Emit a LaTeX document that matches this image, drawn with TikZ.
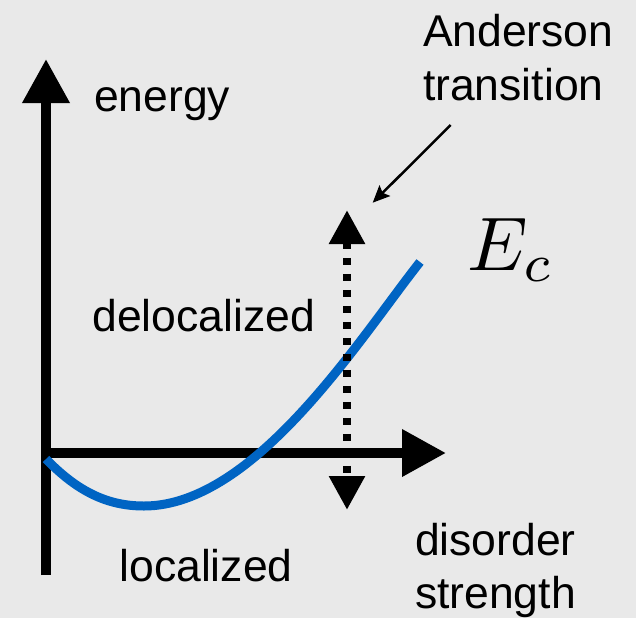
\documentclass[tikz,border=0pt]{standalone}
\usepackage{fontspec}
\setmainfont{Liberation Sans}
\usetikzlibrary{arrows.meta}
\definecolor{bgc}{RGB}{233,233,233}
\definecolor{curveblue}{RGB}{0,100,195}
\tikzset{
  lbl/.style={anchor=base west,inner sep=0pt,outer sep=0pt,font=\fontsize{44.5}{52}\selectfont},
  axis/.style={line width=10pt,-{Triangle[length=44pt,width=45pt]}},
  dotarrow/.style={line width=8.5pt,dash pattern=on 7pt off 9pt,{Triangle[length=34pt,width=34pt]}-{Triangle[length=34pt,width=34pt]}},
  pointer/.style={line width=2.5pt,-{Stealth[length=17pt,width=15pt,inset=3pt]}},
  ecurve/.style={line width=9pt,curveblue}
}
\begin{document}
\begin{tikzpicture}[x=1pt,y=-1pt]
\fill[bgc] (0,0) rectangle (636,618);
\useasboundingbox (0,0) rectangle (636,618);
% axes
\coordinate (o) at (46,453);
\coordinate (ybot) at (46,575);
\coordinate (ytop) at (46,59);
\coordinate (xend) at (446,453);
\draw[axis] (ybot) -- (ytop);
\draw[axis] (41,453) -- (xend);
% curve
\draw[ecurve] (46,459) .. controls (78,492) and (108,506) .. (144,506)
  .. controls (255,506) and (360,338) .. (420,262);
% dotted arrow
\coordinate (dtop) at (347,210);
\coordinate (dbot) at (347,510);
\draw[dotarrow] (dtop) -- (dbot);
% labels
\node[lbl] (energy) at (94,111.5) {energy};
\node[lbl] (deloc) at (92.5,331) {delocalized};
\node[lbl] (loc) at (119.5,581) {localized};
\node[lbl] (dis) at (415,555) {disorder};
\node[lbl] (str) at (415,608) {strength};
\node[lbl] (and) at (423,47) {Anderson};
\node[lbl] (tra) at (423,100) {transition};
\node[anchor=base west,inner sep=0pt,scale=7.6] (ec) at (466,270) {$E_c$};
% pointer
\coordinate (pstart) at (450.7,125);
\coordinate (ptip) at (372.7,202.7);
\draw[pointer] (pstart) -- (ptip);
\end{tikzpicture}
\end{document}
